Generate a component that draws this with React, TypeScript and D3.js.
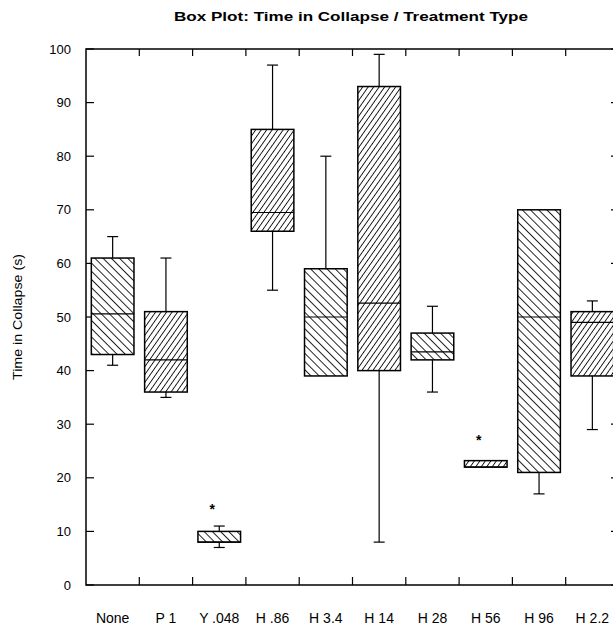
import React, { useEffect, useRef } from "react";
import * as d3 from "d3";

const categories = ["None", "P 1", "Y .048", "H .86", "H 3.4", "H 14", "H 28", "H 56", "H 96", "H 2.2"];
const whiskerHigh = [65, 61, 11, 97, 80, 99, 52, 23.2, 70, 53];
const upperQuartile = [61, 51, 10, 85, 59, 93, 47, 23.2, 70, 51];
const medians = [50.6, 42, 8, 69.5, 50, 52.6, 43.5, 22, 50, 49];
const lowerQuartile = [43, 36, 8, 66, 39, 40, 42, 22, 21, 39];
const whiskerLow = [41, 35, 7, 55, 39, 8, 36, 22, 17, 29];
const outliers = [[], [], [15], [], [], [], [], [28], [], []];
const yTicks = [0, 10, 20, 30, 40, 50, 60, 70, 80, 90, 100];

const FONT = "'Liberation Sans', Arial, sans-serif";

export default function App() {
  const ref = useRef(null);

  useEffect(() => {
    const root = d3.select(ref.current);
    root.selectAll("*").remove();

    const W = 613, H = 628;
    const left = 86, right = 619, top = 49, bottom = 585;

    const svg = root
      .append("svg")
      .attr("width", W)
      .attr("height", H)
      .style("position", "absolute")
      .style("left", 0)
      .style("top", 0)
      .style("background", "#fff");

    const x = d3.scaleBand().domain(categories).range([left, right]).paddingInner(0.2).paddingOuter(0.1);
    const y = d3.scaleLinear().domain([0, 100]).range([bottom, top]);

    // hatch patterns: "\\" sparser, "/" denser and steeper
    const defs = svg.append("defs");
    [["back", -45, 5.8], ["fwd", 35, 4.5]].forEach(([id, ang, sp]) => {
      const p = defs
        .append("pattern")
        .attr("id", "hatch-" + id)
        .attr("patternUnits", "userSpaceOnUse")
        .attr("width", sp)
        .attr("height", sp)
        .attr("patternTransform", "rotate(" + ang + ")");
      p.append("rect").attr("width", sp).attr("height", sp).attr("fill", "#fff");
      p.append("line")
        .attr("x1", 0).attr("y1", 0).attr("x2", 0).attr("y2", sp)
        .attr("stroke", "#000")
        .attr("stroke-width", 1.7);
    });

    // frame
    svg.append("rect")
      .attr("x", left).attr("y", top)
      .attr("width", right - left).attr("height", bottom - top)
      .attr("fill", "none").attr("stroke", "#000").attr("stroke-width", 1.5);

    // y ticks on both sides
    yTicks.forEach((t) => {
      svg.append("line")
        .attr("x1", left).attr("x2", left + 8)
        .attr("y1", y(t)).attr("y2", y(t))
        .attr("stroke", "#000").attr("stroke-width", 1.2);
      svg.append("line")
        .attr("x1", right - 8).attr("x2", right)
        .attr("y1", y(t)).attr("y2", y(t))
        .attr("stroke", "#000").attr("stroke-width", 1.2);
      svg.append("text")
        .attr("x", 71).attr("y", y(t)).attr("dy", "0.36em")
        .attr("text-anchor", "end")
        .attr("font-family", FONT).attr("font-size", 13)
        .text(t);
    });

    // x ticks at category boundaries
    const step = x.step();
    for (let i = 1; i < categories.length; i++) {
      const bx = left + i * step;
      svg.append("line")
        .attr("x1", bx).attr("x2", bx).attr("y1", bottom).attr("y2", bottom - 8)
        .attr("stroke", "#000").attr("stroke-width", 1.2);
      svg.append("line")
        .attr("x1", bx).attr("x2", bx).attr("y1", top).attr("y2", top + 7)
        .attr("stroke", "#000").attr("stroke-width", 1.2);
    }

    categories.forEach((c, i) => {
      const x0 = x(c);
      const bw = x.bandwidth();
      const cx = x0 + bw / 2;
      const capW = 11;
      const g = svg.append("g");

      // whiskers
      if (whiskerHigh[i] > upperQuartile[i]) {
        g.append("line").attr("x1", cx).attr("x2", cx)
          .attr("y1", y(whiskerHigh[i])).attr("y2", y(upperQuartile[i]))
          .attr("stroke", "#000").attr("stroke-width", 1.2);
        g.append("line").attr("x1", cx - capW / 2).attr("x2", cx + capW / 2)
          .attr("y1", y(whiskerHigh[i])).attr("y2", y(whiskerHigh[i]))
          .attr("stroke", "#000").attr("stroke-width", 1.2);
      }
      if (whiskerLow[i] < lowerQuartile[i]) {
        g.append("line").attr("x1", cx).attr("x2", cx)
          .attr("y1", y(lowerQuartile[i])).attr("y2", y(whiskerLow[i]))
          .attr("stroke", "#000").attr("stroke-width", 1.2);
        g.append("line").attr("x1", cx - capW / 2).attr("x2", cx + capW / 2)
          .attr("y1", y(whiskerLow[i])).attr("y2", y(whiskerLow[i]))
          .attr("stroke", "#000").attr("stroke-width", 1.2);
      }

      // box
      g.append("rect")
        .attr("x", x0).attr("y", y(upperQuartile[i]))
        .attr("width", bw)
        .attr("height", Math.max(y(lowerQuartile[i]) - y(upperQuartile[i]), 4))
        .attr("fill", i % 2 === 0 ? "url(#hatch-back)" : "url(#hatch-fwd)")
        .attr("stroke", "#000").attr("stroke-width", 1.5);

      // median
      g.append("line").attr("x1", x0).attr("x2", x0 + bw)
        .attr("y1", y(medians[i])).attr("y2", y(medians[i]))
        .attr("stroke", "#000").attr("stroke-width", 1.2);

      // outliers
      outliers[i].forEach((v) => {
        g.append("text")
          .attr("x", cx - 7).attr("y", y(v)).attr("dy", "0.7em")
          .attr("text-anchor", "middle")
          .attr("font-family", FONT).attr("font-size", 14).attr("font-weight", "bold")
          .text("*");
      });

      // category label
      svg.append("text")
        .attr("x", cx).attr("y", 623)
        .attr("text-anchor", "middle")
        .attr("font-family", FONT).attr("font-size", 14)
        .text(c);
    });

    // y axis title
    svg.append("text")
      .attr("transform", "translate(22," + (top + bottom) / 2 + ") rotate(-90)")
      .attr("text-anchor", "middle")
      .attr("font-family", FONT).attr("font-size", 12.5)
      .attr("textLength", 126).attr("lengthAdjust", "spacingAndGlyphs")
      .text("Time in Collapse (s)");

    // title
    svg.append("text")
      .attr("x", 351).attr("y", 21)
      .attr("text-anchor", "middle")
      .attr("font-family", FONT).attr("font-size", 12).attr("font-weight", "bold")
      .attr("textLength", 354).attr("lengthAdjust", "spacingAndGlyphs")
      .text("Box Plot: Time in Collapse / Treatment Type");
  }, []);

  return <div ref={ref}></div>;
}
